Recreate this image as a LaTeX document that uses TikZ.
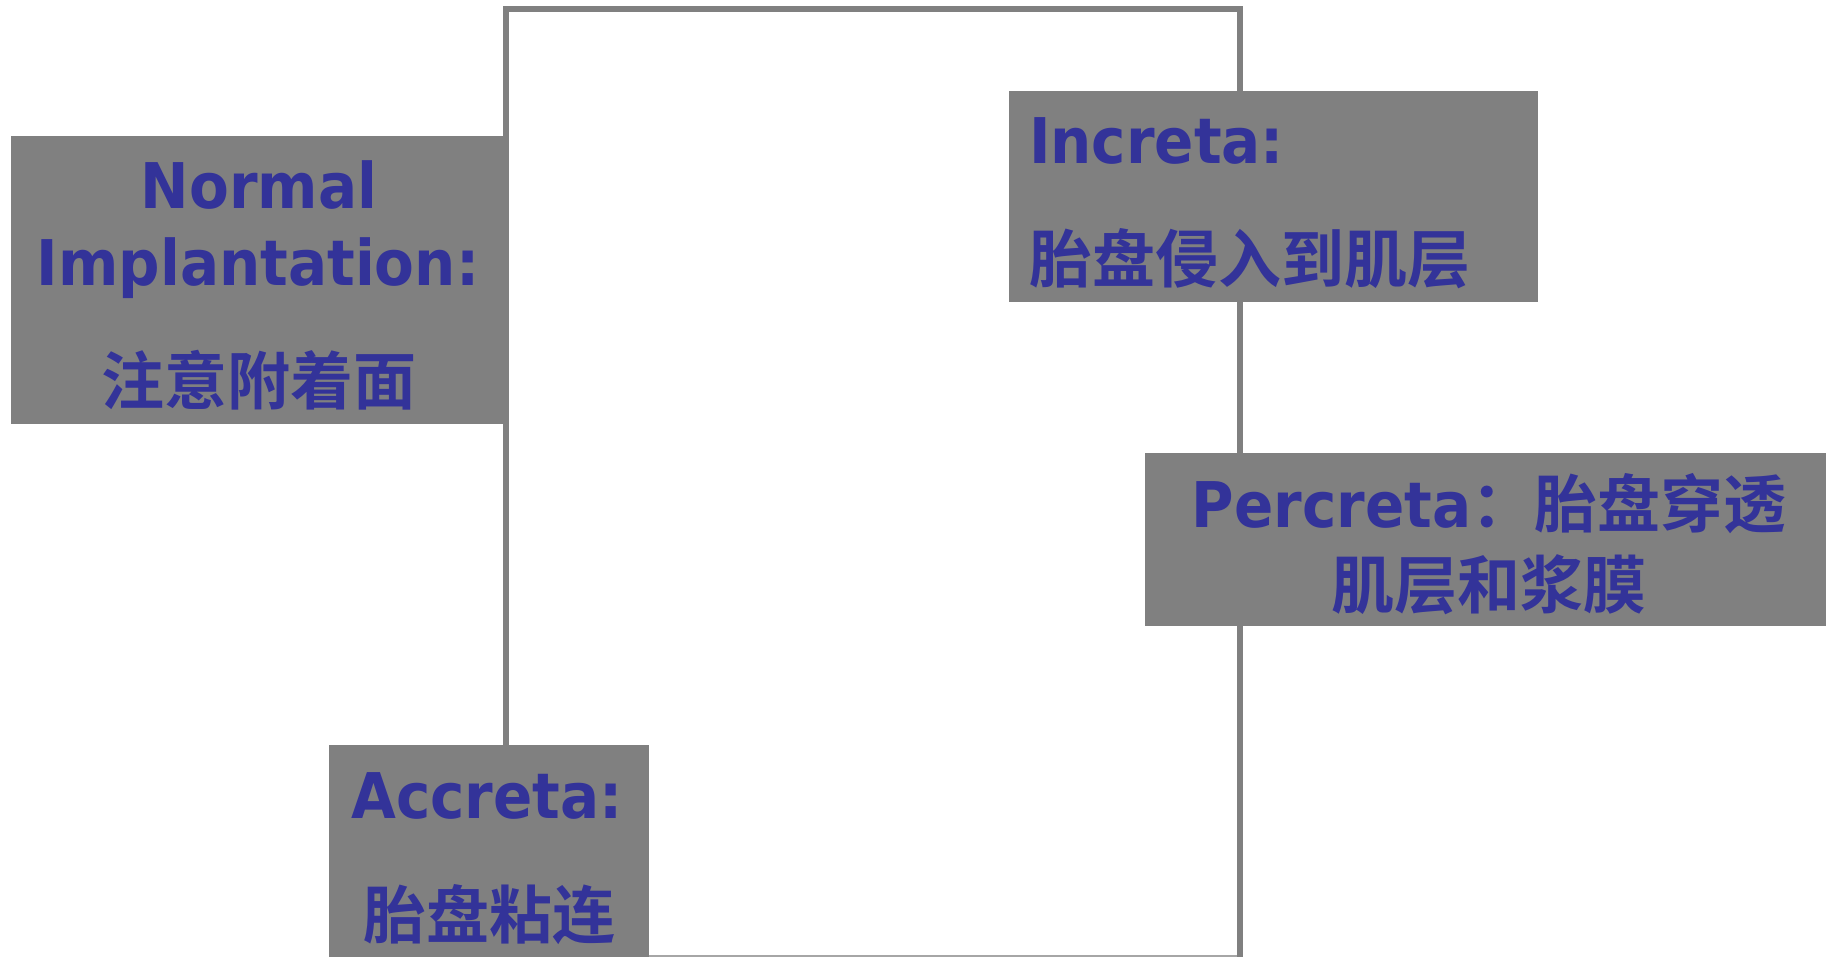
\documentclass[tikz,border=0pt]{standalone}
\usepackage{fontspec}
\newfontfamily\lat[FakeStretch=0.92]{DejaVu Sans Bold}
\newfontfamily\cjk{Noto Sans CJK SC Bold}
\definecolor{txtblue}{HTML}{333399}
\definecolor{boxgray}{HTML}{808080}
\definecolor{framegray}{HTML}{808080}
\definecolor{basegray}{HTML}{A6A6A6}
\begin{document}
\begin{tikzpicture}[x=1pt,y=-1pt,
  box/.style={fill=boxgray, draw=none, inner sep=0pt, outer sep=0pt},
  lbl/.style={text=txtblue, inner sep=0pt, outer sep=0pt, font=\fontsize{63}{70}\selectfont},
  frameline/.style={draw=framegray, line width=5.5pt},
  baseline/.style={draw=basegray, line width=1.5pt}]
\useasboundingbox (0,0) rectangle (1826,957);
\fill[white] (0,0) rectangle (1826,957);
% frame
\coordinate (fbl) at (506,957);
\coordinate (ftl) at (506,9);
\coordinate (ftr) at (1240,9);
\coordinate (fbr) at (1240,957);
\coordinate (bl) at (506,956);
\coordinate (br) at (1240,956);
\draw[baseline] (bl) -- (br);
\draw[frameline, line join=miter] (fbl) -- (ftl) -- (ftr) -- (fbr);
% boxes
\node[box, minimum width=495.5pt, minimum height=288pt] (normal) at (258.25,280) {};
\node[box, minimum width=529pt, minimum height=211pt] (increta) at (1273.5,196.5) {};
\node[box, minimum width=681pt, minimum height=173pt] (percreta) at (1485.5,539.5) {};
\node[box, minimum width=320pt, minimum height=212pt] (accreta) at (489,851) {};
% texts
\node[lbl, anchor=base] (n1) at (259,209) {\lat Normal};
\node[lbl, anchor=base] (n2) at (258,286) {\lat Implantation:};
\node[lbl, anchor=base] (n3) at (259,405) {\cjk 注意附着面};
\node[lbl, anchor=base west] (i1) at (1029,164) {\lat Increta:};
\node[lbl, anchor=base west] (i2) at (1029,283) {\cjk 胎盘侵入到肌层};
\node[lbl, anchor=base] (p1) at (1489,527) {\lat Percreta\cjk ：胎盘穿透};
\node[lbl, anchor=base] (p2) at (1488.5,608) {\cjk 肌层和浆膜};
\node[lbl, anchor=base] (a1) at (487,818) {\lat Accreta:};
\node[lbl, anchor=base] (a2) at (489,938) {\cjk 胎盘粘连};
\end{tikzpicture}
\end{document}
